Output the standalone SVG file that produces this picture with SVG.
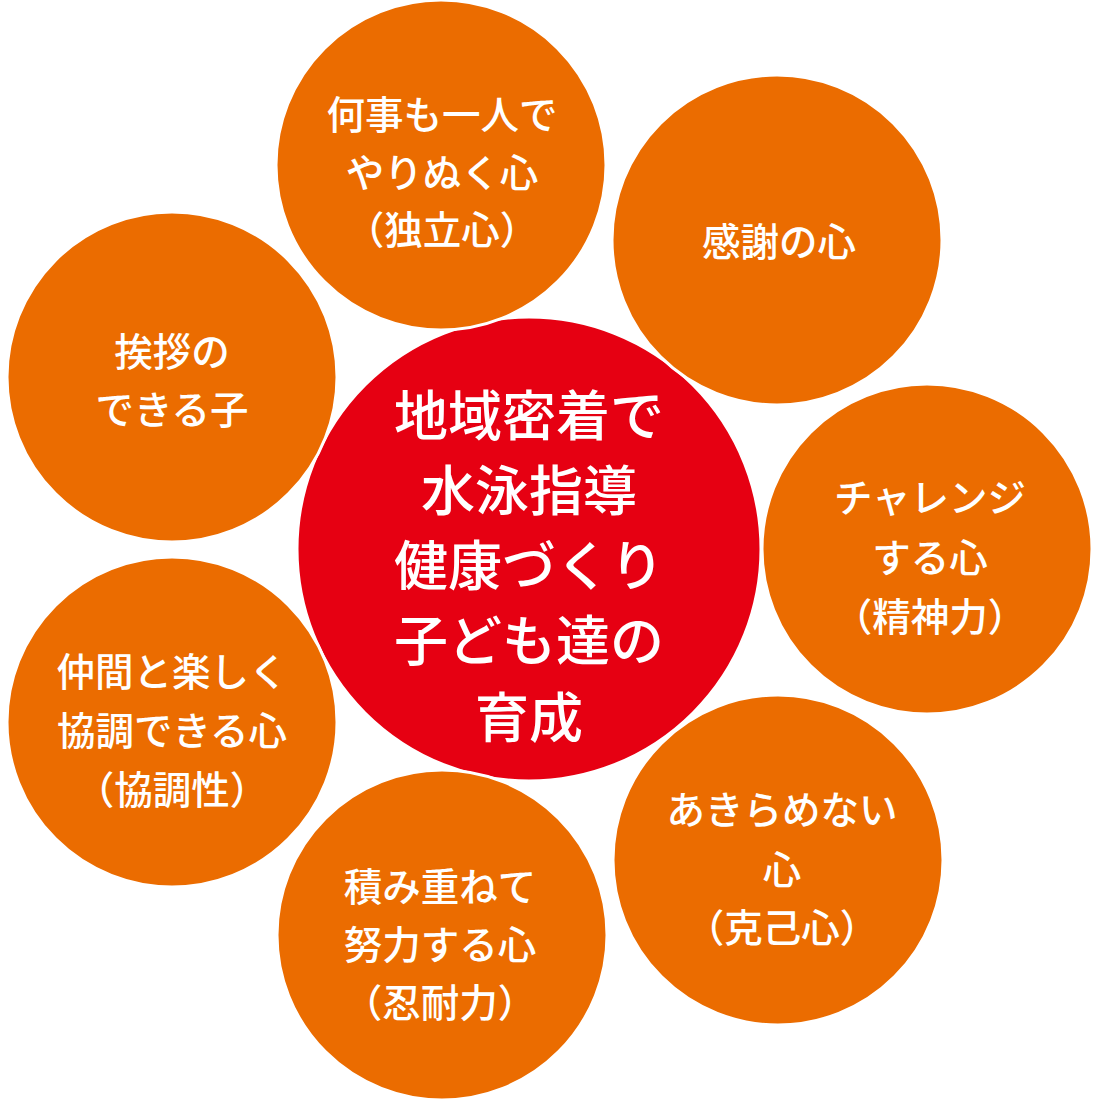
<svg xmlns="http://www.w3.org/2000/svg" width="1100" height="1100" viewBox="0 0 1100 1100">
<style>
.o{fill:#EB6C00;stroke:#fff;stroke-width:3}
.r{fill:#E60012;stroke:#fff;stroke-width:3}
text{fill:#fff;font-family:"Noto Sans CJK JP","Noto Sans CJK SC",sans-serif;font-weight:500;text-anchor:middle}
.s{font-size:38.5px}
.b{font-size:54px}
</style>
<rect width="1100" height="1100" fill="#fff"/>
<g id="center">
<circle class="r" cx="529" cy="549" r="232"/>
<text class="b" x="529" y="436">地域密着で</text>
<text class="b" x="529" y="511">水泳指導</text>
<text class="b" x="529" y="586">健康づくり</text>
<text class="b" x="529" y="661">子ども達の</text>
<text class="b" x="529" y="738">育成</text>
</g>
<g id="connectors"></g>
<g id="n1">
<circle class="o" cx="441" cy="165" r="165"/>
<text class="s" x="442" y="129">何事も一人で</text>
<text class="s" x="442" y="187">やりぬく心</text>
<text class="s" x="442" y="244">（独立心）</text>
</g>
<g id="n2">
<circle class="o" cx="777" cy="240" r="165"/>
<text class="s" x="779" y="256">感謝の心</text>
</g>
<g id="n3">
<circle class="o" cx="927" cy="549" r="165"/>
<text class="s" x="930" y="512">チャレンジ</text>
<text class="s" x="930" y="572">する心</text>
<text class="s" x="930" y="631">（精神力）</text>
</g>
<g id="n4">
<circle class="o" cx="778" cy="860" r="165"/>
<text class="s" x="782" y="824">あきらめない</text>
<text class="s" x="782" y="884">心</text>
<text class="s" x="782" y="942">（克己心）</text>
</g>
<g id="n5">
<circle class="o" cx="442" cy="935" r="165"/>
<text class="s" x="440" y="901">積み重ねて</text>
<text class="s" x="440" y="959">努力する心</text>
<text class="s" x="440" y="1017">（忍耐力）</text>
</g>
<g id="n6">
<circle class="o" cx="172" cy="722" r="165"/>
<text class="s" x="172" y="686">仲間と楽しく</text>
<text class="s" x="172" y="745">協調できる心</text>
<text class="s" x="172" y="804">（協調性）</text>
</g>
<g id="n7">
<circle class="o" cx="172" cy="377" r="165"/>
<text class="s" x="172" y="366">挨拶の</text>
<text class="s" x="172" y="424">できる子</text>
</g>
</svg>
